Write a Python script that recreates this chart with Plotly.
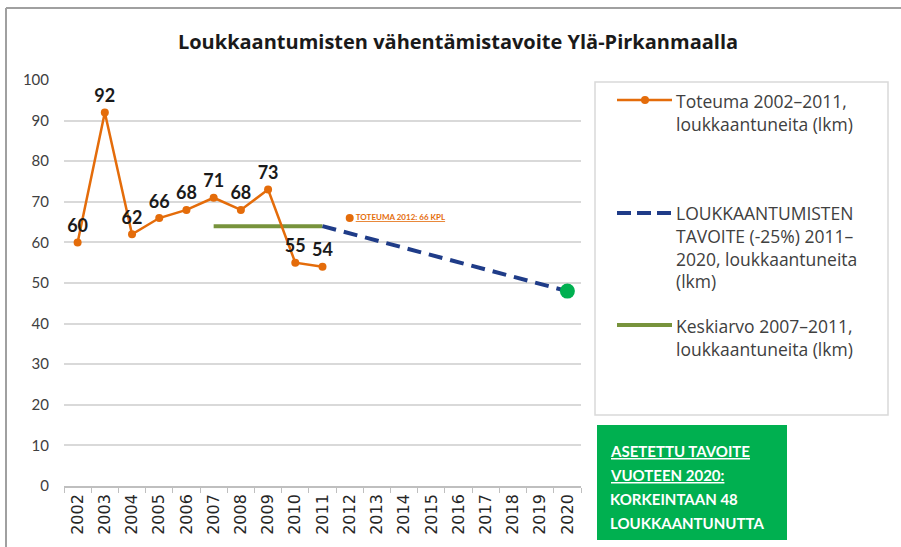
import plotly.graph_objects as go

years = [str(y) for y in range(2002, 2021)]
actual_years = [str(y) for y in range(2002, 2012)]
actual_vals = [60, 92, 62, 66, 68, 71, 68, 73, 55, 54]
point2012_year = ["2012"]
point2012_val = [66]
point2012_label = ["TOTEUMA 2012: 66 KPL"]
target_years = ["2011", "2020"]
target_vals = [64, 48]
mean_years = ["2007", "2011"]
mean_vals = [64, 64]
goal_year = ["2020"]
goal_val = [48]

title = "Loukkaantumisten vähentämistavoite Ylä-Pirkanmaalla"
legend_texts = [
    "Toteuma 2002–2011,<br>loukkaantuneita (lkm)",
    "LOUKKAANTUMISTEN<br>TAVOITE (-25%) 2011–<br>2020, loukkaantuneita<br>(lkm)",
    "Keskiarvo 2007–2011,<br>loukkaantuneita (lkm)",
]
box_lines = ["<u>ASETETTU TAVOITE</u>", "<u>VUOTEEN 2020:</u>", "KORKEINTAAN 48", "LOUKKAANTUNUTTA"]

ORANGE = "#E46C0A"
NAVY = "#1F3C88"
OLIVE = "#77933C"
GREEN = "#00B050"
FONT = "Lato"

W, H = 901, 547
L, R, T, B = 64, 320, 80, 61
PW, PH = W - L - R, H - T - B


def px(x):
    return (x - L) / PW


def py(y):
    return (H - B - y) / PH


fig = go.Figure()

fig.add_trace(go.Scatter(
    x=mean_years, y=mean_vals, mode="lines",
    line=dict(color=OLIVE, width=4), showlegend=False, hoverinfo="skip"))

fig.add_trace(go.Scatter(
    x=target_years, y=target_vals, mode="lines",
    line=dict(color=NAVY, width=4, dash="14px,8px"), showlegend=False))

fig.add_trace(go.Scatter(
    x=actual_years, y=actual_vals, mode="lines+markers+text",
    line=dict(color=ORANGE, width=2.5), marker=dict(color=ORANGE, size=8),
    text=[str(v) for v in actual_vals], textposition="top center",
    textfont=dict(family=FONT, size=18, color="#1a1a1a", weight="bold"),
    showlegend=False))

fig.add_trace(go.Scatter(
    x=point2012_year, y=point2012_val, mode="markers+text",
    marker=dict(color=ORANGE, size=8),
    text=["<u>" + t + "</u>" for t in point2012_label], textposition="middle right",
    textfont=dict(family=FONT, size=8, color=ORANGE, weight="bold"),
    showlegend=False))

fig.add_trace(go.Scatter(
    x=goal_year, y=goal_val, mode="markers",
    marker=dict(color=GREEN, size=15), showlegend=False))

shapes = []
annotations = []

# outer chart border (top and left visible)
shapes.append(dict(type="line", xref="paper", yref="paper", x0=px(6), x1=px(905), y0=py(8), y1=py(8),
                   line=dict(color="#a0a0a0", width=2)))
shapes.append(dict(type="line", xref="paper", yref="paper", x0=px(6), x1=px(6), y0=py(8), y1=py(550),
                   line=dict(color="#a0a0a0", width=2)))

# legend box
shapes.append(dict(type="rect", xref="paper", yref="paper", x0=px(595), x1=px(888), y0=py(82), y1=py(415),
                   line=dict(color="#d9d9d9", width=1.5), fillcolor="white"))
# legend samples
shapes.append(dict(type="line", xref="paper", yref="paper", x0=px(617), x1=px(672), y0=py(100), y1=py(100),
                   line=dict(color=ORANGE, width=2.5)))
shapes.append(dict(type="circle", xref="paper", yref="paper", x0=px(641), x1=px(649), y0=py(96), y1=py(104),
                   line=dict(color=ORANGE, width=0), fillcolor=ORANGE))
shapes.append(dict(type="line", xref="paper", yref="paper", x0=px(617), x1=px(672), y0=py(213), y1=py(213),
                   line=dict(color=NAVY, width=4, dash="14px,6px")))
shapes.append(dict(type="line", xref="paper", yref="paper", x0=px(617), x1=px(672), y0=py(325), y1=py(325),
                   line=dict(color=OLIVE, width=4)))

legend_tops = [87, 199, 312]
for txt, top in zip(legend_texts, legend_tops):
    annotations.append(dict(xref="paper", yref="paper", x=px(674), y=py(top), xanchor="left", yanchor="top",
                            text=txt, showarrow=False, align="left",
                            font=dict(family="Open Sans", size=17.5, color="#404040")))

# green goal box
shapes.append(dict(type="rect", xref="paper", yref="paper", x0=px(597), x1=px(787), y0=py(425), y1=py(540),
                   line=dict(color=GREEN, width=0), fillcolor=GREEN))
for i, line in enumerate(box_lines):
    annotations.append(dict(xref="paper", yref="paper", x=px(608), y=py(451 + 24 * i), xanchor="left",
                            yanchor="middle", text=line, showarrow=False, align="left",
                            font=dict(family=FONT, size=15, color="white", weight="bold")))

# arrow
annotations.append(dict(x="2020", y=48, xref="x", yref="y", ax=82, ay=130, axref="pixel", ayref="pixel",
                        showarrow=True, arrowhead=2, arrowsize=1.2, arrowwidth=1.6, arrowcolor=GREEN,
                        standoff=12, text=""))

fig.update_layout(
    width=W, height=H,
    margin=dict(l=L, r=R, t=T, b=B),
    paper_bgcolor="white", plot_bgcolor="white",
    title=dict(text="<b>" + title + "</b>", x=458 / W, xanchor="center", y=1 - 42 / H, yanchor="middle",
               font=dict(family="Open Sans", size=20, color="#1a1a1a")),
    shapes=shapes, annotations=annotations,
    showlegend=False,
    xaxis=dict(type="category", categoryorder="array", categoryarray=years, range=[-0.5, 18.5],
               tickangle=-90, ticks="outside", tickson="boundaries", ticklen=5, tickcolor="#bfbfbf",
               showline=True, linecolor="#bfbfbf", linewidth=1.5, showgrid=False,
               tickfont=dict(family="DejaVu Sans", size=16, color="#262626")),
    yaxis=dict(range=[0, 100], dtick=10, showgrid=True, gridcolor="#d9d9d9", gridwidth=2,
               zeroline=False, showline=False, ticks="", ticklabelstandoff=14,
               tickfont=dict(family=FONT, size=15, color="#404040")),
)

fig.write_html("out.html", config={"displayModeBar": False},
               post_script="document.body.style.margin='0';document.body.style.overflow='hidden';")
